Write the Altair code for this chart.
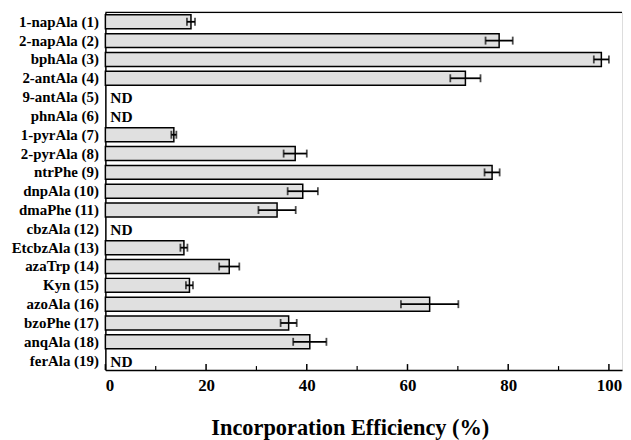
import altair as alt
import pandas as pd

labels = ["1-napAla (1)", "2-napAla (2)", "bphAla (3)", "2-antAla (4)", "9-antAla (5)",
          "phnAla (6)", "1-pyrAla (7)", "2-pyrAla (8)", "ntrPhe (9)", "dnpAla (10)",
          "dmaPhe (11)", "cbzAla (12)", "EtcbzAla (13)", "azaTrp (14)", "Kyn (15)",
          "azoAla (16)", "bzoPhe (17)", "anqAla (18)", "ferAla (19)"]
values = [17.0, 78.2, 98.5, 71.5, None, None, 13.6, 37.7, 76.8, 39.2,
          34.1, None, 15.6, 24.6, 16.7, 64.4, 36.4, 40.6, None]
errors = [0.8, 2.7, 1.5, 3.0, None, None, 0.5, 2.3, 1.5, 3.0,
          3.7, None, 0.7, 2.0, 0.7, 5.7, 1.6, 3.3, None]
major_ticks = [0, 20, 40, 60, 80, 100]
minor_ticks = [10, 30, 50, 70, 90]

rows = []
for lab, v, e in zip(labels, values, errors):
    rows.append({"label": lab, "value": v, "err": e,
                 "lo": None if v is None else v - e,
                 "hi": None if v is None else v + e,
                 "nd": v is None})
df = pd.DataFrame(rows)
ticks_df = pd.DataFrame({"t": major_ticks + minor_ticks,
                         "major": [True] * len(major_ticks) + [False] * len(minor_ticks)})

W, H = 520, 360
FONT = "Liberation Serif"

xscale = alt.Scale(domain=[0, 102.6], nice=False, zero=True)
yscale = alt.Scale(domain=labels, paddingInner=0.26, paddingOuter=0.13)

base = alt.Chart(df)

bars = base.transform_filter("datum.value != null").mark_bar(
    fill="#e0e0e0", stroke="black", strokeWidth=1.5
).encode(
    x=alt.X("value:Q", scale=xscale,
            axis=alt.Axis(values=major_ticks, ticks=False, grid=False, domainColor="black",
                          domainWidth=1.5, labelFont=FONT, labelFontWeight="bold",
                          labelFontSize=17, labelColor="black", labelPadding=8,
                          title="Incorporation Efficiency (%)", titleFont=FONT,
                          titleFontWeight="bold", titleFontSize=22.5, titleColor="black",
                          titlePadding=23, titleX=246)),
    y=alt.Y("label:N", scale=yscale, sort=labels,
            axis=alt.Axis(ticks=False, grid=False, domainColor="black", domainWidth=1.5,
                          labelFont=FONT, labelFontWeight="bold", labelFontSize=15,
                          labelColor="black", labelPadding=7, title=None)),
)

err_line = base.transform_filter("datum.value != null").mark_rule(
    color="black", strokeWidth=1.8
).encode(x="lo:Q", x2="hi:Q", y=alt.Y("label:N", sort=labels))

cap_lo = base.transform_filter("datum.value != null").mark_tick(
    color="black", thickness=1.8, size=8
).encode(x="lo:Q", y=alt.Y("label:N", sort=labels))
cap_hi = base.transform_filter("datum.value != null").mark_tick(
    color="black", thickness=1.8, size=8
).encode(x="hi:Q", y=alt.Y("label:N", sort=labels))

nd_text = base.transform_filter("datum.value == null").transform_calculate(
    zero="0"
).mark_text(
    text="ND", align="left", baseline="middle", dx=5, dy=1,
    font=FONT, fontWeight="bold", fontSize=15.5, color="black"
).encode(x=alt.X("zero:Q"), y=alt.Y("label:N", sort=labels))

major = alt.Chart(ticks_df).transform_filter("datum.major").mark_rule(
    color="black", strokeWidth=1.5
).encode(x="t:Q", y=alt.value(H), y2=alt.value(H - 6))
minor = alt.Chart(ticks_df).transform_filter("!datum.major").mark_rule(
    color="black", strokeWidth=1.2
).encode(x="t:Q", y=alt.value(H), y2=alt.value(H - 4))

top_line = alt.Chart(ticks_df).transform_filter("datum.t == 0").mark_rule(
    color="black", strokeWidth=1.5
).encode(x=alt.value(0), x2=alt.value(W), y=alt.value(0))

chart = alt.layer(bars, err_line, cap_lo, cap_hi, nd_text, major, minor, top_line).properties(
    width=W, height=H, padding={"left": 3, "top": 2, "right": 0, "bottom": 0}
).configure_view(stroke=None).configure(background="white")

chart.save("out.html", embed_options={"renderer": "svg", "actions": False})
